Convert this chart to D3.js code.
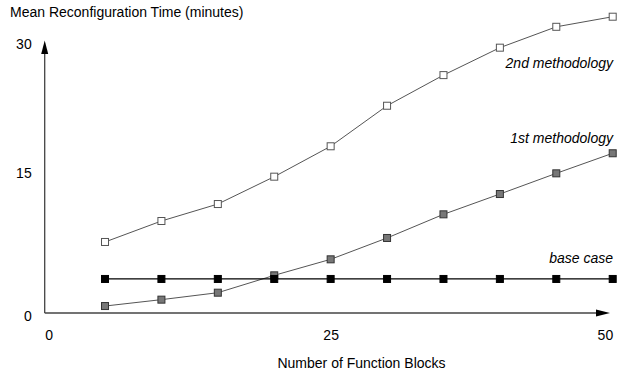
<!DOCTYPE html>
<html>
<head>
<meta charset="utf-8">
<script src="https://cdn.jsdelivr.net/npm/d3@7"></script>
<style>
  body { margin: 0; background: #fff; }
  text { font-family: 'Liberation Sans', Arial, sans-serif; }
</style>
</head>
<body>
<div id="chart-1"></div>
<script>
let blocks = [5, 10, 15, 20, 25, 30, 35, 40, 45, 50]
let secondMethod = [7.45, 9.65, 11.43, 14.3, 17.75, 22.45, 26.0, 29.18, 31.6, 32.77]
let firstMethod = [0.73, 1.4, 2.13, 3.95, 5.63, 7.87, 10.35, 12.48, 14.65, 16.94]
let baseCase = [3.57, 3.57, 3.57, 3.57, 3.57, 3.57, 3.57, 3.57, 3.57, 3.57]
let xTicks = [0, 25, 50]
let yTicks = [0, 15, 30]

let width = 618
let height = 373

let svg = d3
  .select('#chart-1')
  .append('svg')
  .attr('height', height)
  .attr('width', width)

// x axis starts at the vertical line, points start at x = 5
let x = d3.scaleLinear().domain([0, 50]).range([48.6, 612.7])
// the upper half of the y axis is drawn a little squashed in the original
let y = d3.scaleLinear().domain([0, 15, 30]).range([313, 170, 40.6])

let axisX = 44.7
let axisY = 313

// axis lines with arrow heads
svg
  .append('line')
  .attr('x1', axisX)
  .attr('x2', 597)
  .attr('y1', axisY)
  .attr('y2', axisY)
  .attr('stroke', '#444')
  .attr('stroke-width', 1.3)

svg
  .append('path')
  .attr('d', `M596,${axisY - 3.5}L610,${axisY}L596,${axisY + 3.5}Z`)
  .attr('fill', '#000')

svg
  .append('line')
  .attr('x1', axisX)
  .attr('x2', axisX)
  .attr('y1', axisY)
  .attr('y2', 53)
  .attr('stroke', '#444')
  .attr('stroke-width', 1.3)

svg
  .append('path')
  .attr('d', `M${axisX - 3.5},54L${axisX},40.5L${axisX + 3.5},54Z`)
  .attr('fill', '#000')

// tick labels
let yAxis = svg
  .append('g')
  .attr('transform', 'translate(' + axisX + ',0)')
  .call(d3.axisLeft(y).tickValues(yTicks).tickSize(0).tickPadding(13))

yAxis.select('.domain').remove()
yAxis
  .selectAll('text')
  .attr('dy', '0.57em')
  .attr('font-size', 14)
  .attr('font-family', 'Liberation Sans, Arial, sans-serif')
  .attr('fill', '#000')

let xAxis = svg
  .append('g')
  .attr('transform', 'translate(0,' + axisY + ')')
  .call(d3.axisBottom(x).tickValues(xTicks).tickSize(0).tickPadding(17))

xAxis.select('.domain').remove()
xAxis
  .selectAll('text')
  .attr('font-size', 14)
  .attr('font-family', 'Liberation Sans, Arial, sans-serif')
  .attr('fill', '#000')
  .attr('text-anchor', d => (d === 50 ? 'end' : 'middle'))

// axis titles
svg
  .append('text')
  .attr('x', 10)
  .attr('y', 17)
  .attr('font-size', 14)
  .text('Mean Reconfiguration Time (minutes)')

svg
  .append('text')
  .attr('x', 361.5)
  .attr('y', 368)
  .attr('text-anchor', 'middle')
  .attr('font-size', 14)
  .text('Number of Function Blocks')

// series
let series = [
  { name: '2nd methodology', values: secondMethod, fill: '#fff', stroke: '#555', line: '#555', lw: 1, labelY: 68 },
  { name: '1st methodology', values: firstMethod, fill: '#777', stroke: '#333', line: '#555', lw: 1, labelY: 143 },
  { name: 'base case', values: baseCase, fill: '#000', stroke: '#000', line: '#000', lw: 1.2, labelY: 263 }
]

let line = d3
  .line()
  .x(d => x(d[0]))
  .y(d => y(d[1]))

series.forEach(s => {
  let pts = blocks.map((b, i) => [b, s.values[i]])

  svg
    .append('path')
    .datum(pts)
    .attr('d', line)
    .attr('fill', 'none')
    .attr('stroke', s.line)
    .attr('stroke-width', s.lw)

  svg
    .selectAll('.m-' + s.labelY)
    .data(pts)
    .enter()
    .append('rect')
    .attr('class', 'm-' + s.labelY)
    .attr('x', d => x(d[0]) - 3.5)
    .attr('y', d => y(d[1]) - 3.5)
    .attr('width', 7)
    .attr('height', 7)
    .attr('fill', s.fill)
    .attr('stroke', s.stroke)
    .attr('stroke-width', 1)

  svg
    .append('text')
    .attr('x', 613)
    .attr('y', s.labelY)
    .attr('text-anchor', 'end')
    .attr('font-size', 14)
    .attr('font-style', 'italic')
    .text(s.name)
})
</script>
</body>
</html>
